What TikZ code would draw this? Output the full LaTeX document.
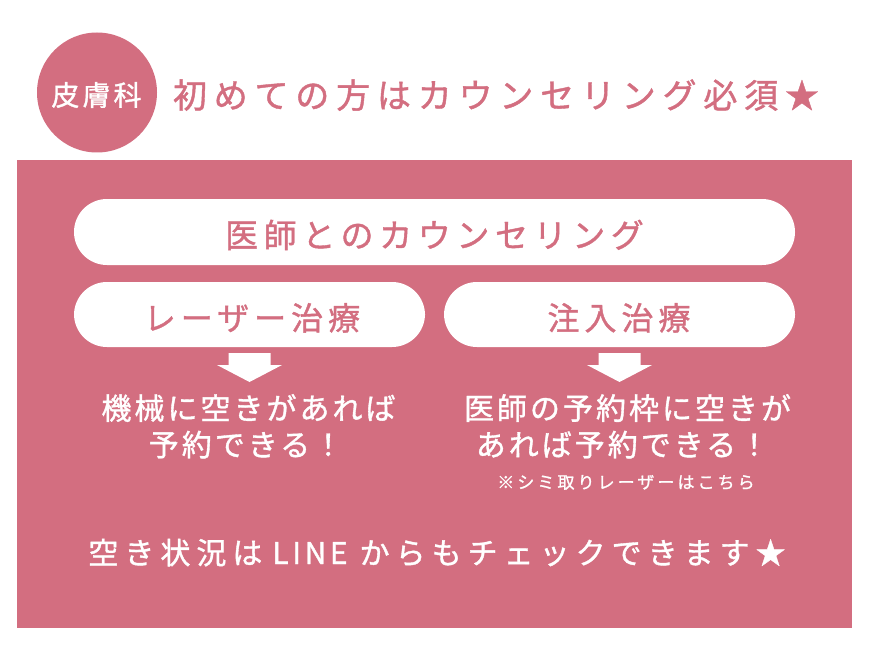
\documentclass[tikz,border=0pt]{standalone}
\usepackage{fontspec}
\setmainfont{Noto Sans CJK JP}
\definecolor{pinkc}{RGB}{211,110,128}
\newcommand{\jtxt}[3]{{\fontsize{#1}{#1}\selectfont\addfontfeatures{LetterSpace=#2,FakeBold=1.2}#3}}
\tikzset{
  pillbox/.style={fill=white, rounded corners=33pt, minimum height=66pt, inner sep=0pt},
  pinktext/.style={text=pinkc, anchor=base, inner sep=0pt},
  whitetext/.style={text=white, anchor=base, inner sep=0pt},
}
\begin{document}
\begin{tikzpicture}[x=1pt,y=-1pt]
\useasboundingbox (0,0) rectangle (869,647);
\fill[white] (0,0) rectangle (869,647);
% badge and title
\node[fill=pinkc, circle, minimum size=120pt, inner sep=0pt] (badge) at (97,92.5) {};
\node[whitetext] (badgetxt) at (96.5,105.6) {\jtxt{28}{11}{皮膚科}};
\node[pinktext] (title) at (496,108) {\jtxt{34}{20}{初めての方はカウンセリング必須★}};
% panel
\node[fill=pinkc, minimum width=835pt, minimum height=468pt, inner sep=0pt, anchor=north west] (panel) at (17,160) {};
% pills
\node[pillbox, minimum width=721pt] (p1) at (434.5,232) {};
\node[pinktext] (p1t) at (434.5,247.5) {\jtxt{33}{17}{医師とのカウンセリング}};
\node[pillbox, minimum width=351pt, minimum height=65pt] (p2) at (249.5,314.5) {};
\node[pinktext] (p2t) at (252,330) {\jtxt{32}{15.6}{レーザー治療}};
\node[pillbox, minimum width=351pt, minimum height=65pt] (p3) at (619.5,314.5) {};
\node[pinktext] (p3t) at (619,330) {\jtxt{32}{15.6}{注入治療}};
% arrows
\coordinate (a1) at (249.5,353);
\coordinate (a2) at (619.5,353);
\foreach \c in {a1,a2}{
  \fill[white, shift={(\c)}] (-21,0) -- (21,0) -- (21,12) -- (32.5,12) -- (0,29) -- (-32.5,12) -- (-21,12) -- cycle;
}
% white texts
\node[whitetext] (l1) at (248.5,419.5) {\jtxt{30}{10}{機械に空きがあれば}};
\node[whitetext] (l2) at (246,456) {\jtxt{30}{10}{予約できる！}};
\node[whitetext] (r1) at (627.5,419.5) {\jtxt{30}{10}{医師の予約枠に空きが}};
\node[whitetext] (r2) at (622.5,456) {\jtxt{30}{10}{あれば予約できる！}};
\node[whitetext] (r3) at (626,488.5) {\jtxt{17}{18}{※シミ取りレーザーはこちら}};
\node[whitetext] (bottom) at (437,564) {\jtxt{30}{20}{空き状況は}\hspace{10pt}\jtxt{30}{12}{LINE}\hspace{12pt}\jtxt{30}{20}{からもチェックできます★}};
\end{tikzpicture}
\end{document}
